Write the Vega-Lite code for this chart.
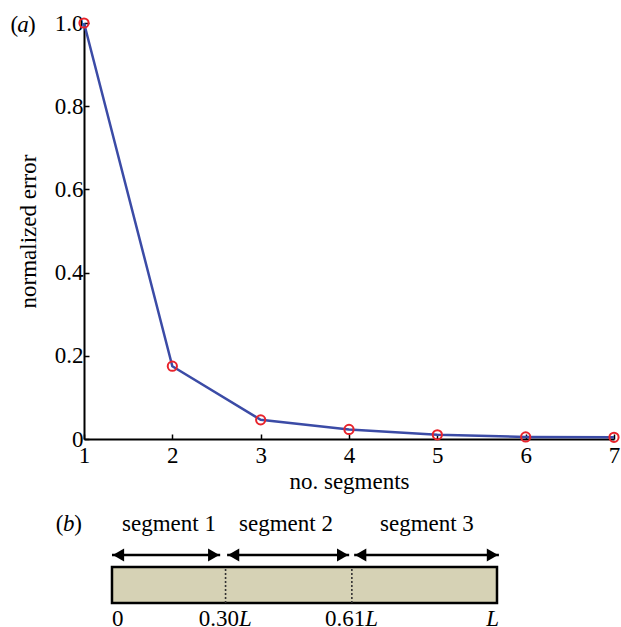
{
  "$schema": "https://vega.github.io/schema/vega-lite/v6.json",
  "autosize": {"type": "pad"},
  "padding": {"left": 10, "top": 12, "right": 0, "bottom": 0},
  "background": "white",
  "bounds": "flush",
  "spacing": 62,
  "config": {
    "font": "Liberation Serif",
    "view": {"stroke": null},
    "axis": {
      "grid": false,
      "domainColor": "black",
      "domainWidth": 2,
      "tickColor": "black",
      "tickWidth": 1.5,
      "tickSize": -5,
      "labelFont": "Liberation Serif",
      "labelFontSize": 23,
      "labelColor": "black",
      "labelPadding": 6,
      "labelFlush": false,
      "labelOverlap": false,
      "titleFont": "Liberation Serif",
      "titleFontSize": 23,
      "titleFontWeight": "normal",
      "titleColor": "black"
    },
    "text": {"font": "Liberation Serif", "fontSize": 23, "color": "black"}
  },
  "datasets": {
    "errors": [
      {"segments": 1, "error": 1.0},
      {"segments": 2, "error": 0.175},
      {"segments": 3, "error": 0.046},
      {"segments": 4, "error": 0.023},
      {"segments": 5, "error": 0.01},
      {"segments": 6, "error": 0.005},
      {"segments": 7, "error": 0.004}
    ],
    "panel_a": [{"segments": 0.31, "error": 1.0}],
    "beam": [{"start": 0, "end": 1, "low": 1.8, "high": 5.4}],
    "cuts": [{"pos": 0.295, "low": 1.8, "high": 5.4, "num": "0.30", "level": 0.25}, {"pos": 0.623, "low": 1.8, "high": 5.4, "num": "0.61", "level": 0.25}],
    "pieces": [
      {"name": "segment 1", "start": 0, "end": 0.281, "mid": 0.148, "arrow": 6.6, "label": 9.7},
      {"name": "segment 2", "start": 0.299, "end": 0.616, "mid": 0.452, "arrow": 6.6, "label": 9.7},
      {"name": "segment 3", "start": 0.629, "end": 1.005, "mid": 0.818, "arrow": 6.6, "label": 9.7}
    ],
    "start_label": [{"pos": 0, "level": 0.25, "text": "0"}],
    "end_label": [{"pos": 1, "level": 0.25, "text": "L"}],
    "panel_b": [{"pos": -0.112, "level": 9.7}]
  },
  "vconcat": [
    {
      "width": 530,
      "height": 416,
      "layer": [
        {
          "data": {"name": "errors"},
          "mark": {"type": "line", "color": "#3b4ba6", "strokeWidth": 2.5},
          "encoding": {
            "x": {
              "field": "segments", "type": "quantitative",
              "scale": {"domain": [1, 7], "nice": false, "zero": false},
              "axis": {"values": [1, 2, 3, 4, 5, 6, 7], "format": "d", "title": "no. segments", "labelPadding": 10, "titlePadding": 3}
            },
            "y": {
              "field": "error", "type": "quantitative",
              "scale": {"domain": [0, 1], "nice": false},
              "axis": {
                "values": [0, 0.2, 0.4, 0.6, 0.8, 1],
                "labelExpr": "datum.value == 0 ? '0' : format(datum.value, '.1f')",
                "title": "normalized error",
                "titlePadding": 14
              }
            }
          }
        },
        {
          "data": {"name": "errors"},
          "mark": {"type": "point", "shape": "circle", "filled": false, "color": "#e8232b", "size": 85, "strokeWidth": 2, "opacity": 1},
          "encoding": {
            "x": {"field": "segments", "type": "quantitative", "scale": {"domain": [1, 7], "nice": false, "zero": false}},
            "y": {"field": "error", "type": "quantitative", "scale": {"domain": [0, 1], "nice": false}}
          }
        },
        {
          "data": {"name": "panel_a"},
          "mark": {"type": "text", "text": "(", "align": "right", "baseline": "middle", "dx": -5, "dy": 2},
          "encoding": {
            "x": {"field": "segments", "type": "quantitative", "scale": {"domain": [1, 7], "nice": false, "zero": false}},
            "y": {"field": "error", "type": "quantitative", "scale": {"domain": [0, 1], "nice": false}}
          }
        },
        {
          "data": {"name": "panel_a"},
          "mark": {"type": "text", "text": "a", "fontStyle": "italic", "align": "center", "baseline": "middle", "dy": 2},
          "encoding": {
            "x": {"field": "segments", "type": "quantitative", "scale": {"domain": [1, 7], "nice": false, "zero": false}},
            "y": {"field": "error", "type": "quantitative", "scale": {"domain": [0, 1], "nice": false}}
          }
        },
        {
          "data": {"name": "panel_a"},
          "mark": {"type": "text", "text": ")", "align": "left", "baseline": "middle", "dx": 5, "dy": 2},
          "encoding": {
            "x": {"field": "segments", "type": "quantitative", "scale": {"domain": [1, 7], "nice": false, "zero": false}},
            "y": {"field": "error", "type": "quantitative", "scale": {"domain": [0, 1], "nice": false}}
          }
        }
      ]
    },
    {
      "width": 530,
      "height": 120,
      "layer": [
        {
          "data": {"name": "beam"},
          "mark": {"type": "rect", "fill": "#d6d2b5", "stroke": "black", "strokeWidth": 2.5},
          "encoding": {
            "x": {"field": "start", "type": "quantitative", "scale": {"domain": [-0.0727, 1.3039], "nice": false, "zero": false}, "axis": null},
            "x2": {"field": "end"},
            "y": {"field": "low", "type": "quantitative", "scale": {"domain": [0, 12], "nice": false}, "axis": null},
            "y2": {"field": "high"}
          }
        },
        {
          "data": {"name": "cuts"},
          "mark": {"type": "rule", "color": "#333333", "strokeWidth": 1.6, "strokeDash": [2, 2]},
          "encoding": {
            "x": {"field": "pos", "type": "quantitative", "scale": {"domain": [-0.0727, 1.3039], "nice": false, "zero": false}, "axis": null},
            "y": {"field": "low", "type": "quantitative", "scale": {"domain": [0, 12], "nice": false}, "axis": null},
            "y2": {"field": "high"}
          }
        },
        {
          "data": {"name": "pieces"},
          "mark": {"type": "rule", "color": "black", "strokeWidth": 2.5},
          "encoding": {
            "x": {"field": "start", "type": "quantitative", "scale": {"domain": [-0.0727, 1.3039], "nice": false, "zero": false}, "axis": null},
            "x2": {"field": "end"},
            "y": {"field": "arrow", "type": "quantitative", "scale": {"domain": [0, 12], "nice": false}, "axis": null}
          }
        },
        {
          "data": {"name": "pieces"},
          "mark": {"type": "point", "shape": "triangle-right", "filled": true, "color": "black", "size": 169, "opacity": 1, "xOffset": -6.5},
          "encoding": {
            "x": {"field": "end", "type": "quantitative", "scale": {"domain": [-0.0727, 1.3039], "nice": false, "zero": false}, "axis": null},
            "y": {"field": "arrow", "type": "quantitative", "scale": {"domain": [0, 12], "nice": false}, "axis": null}
          }
        },
        {
          "data": {"name": "pieces"},
          "mark": {"type": "point", "shape": "triangle-left", "filled": true, "color": "black", "size": 169, "opacity": 1, "xOffset": 6.5},
          "encoding": {
            "x": {"field": "start", "type": "quantitative", "scale": {"domain": [-0.0727, 1.3039], "nice": false, "zero": false}, "axis": null},
            "y": {"field": "arrow", "type": "quantitative", "scale": {"domain": [0, 12], "nice": false}, "axis": null}
          }
        },
        {
          "data": {"name": "pieces"},
          "mark": {"type": "text", "align": "center", "baseline": "middle"},
          "encoding": {
            "x": {"field": "mid", "type": "quantitative", "scale": {"domain": [-0.0727, 1.3039], "nice": false, "zero": false}, "axis": null},
            "y": {"field": "label", "type": "quantitative", "scale": {"domain": [0, 12], "nice": false}, "axis": null},
            "text": {"field": "name"}
          }
        },
        {
          "data": {"name": "cuts"},
          "mark": {"type": "text", "align": "right", "baseline": "middle", "dx": 13.5},
          "encoding": {
            "x": {"field": "pos", "type": "quantitative", "scale": {"domain": [-0.0727, 1.3039], "nice": false, "zero": false}, "axis": null},
            "y": {"field": "level", "type": "quantitative", "scale": {"domain": [0, 12], "nice": false}, "axis": null},
            "text": {"field": "num"}
          }
        },
        {
          "data": {"name": "cuts"},
          "mark": {"type": "text", "text": "L", "fontStyle": "italic", "align": "left", "baseline": "middle", "dx": 13.5},
          "encoding": {
            "x": {"field": "pos", "type": "quantitative", "scale": {"domain": [-0.0727, 1.3039], "nice": false, "zero": false}, "axis": null},
            "y": {"field": "level", "type": "quantitative", "scale": {"domain": [0, 12], "nice": false}, "axis": null}
          }
        },
        {
          "data": {"name": "start_label"},
          "mark": {"type": "text", "align": "left", "baseline": "middle"},
          "encoding": {
            "x": {"field": "pos", "type": "quantitative", "scale": {"domain": [-0.0727, 1.3039], "nice": false, "zero": false}, "axis": null},
            "y": {"field": "level", "type": "quantitative", "scale": {"domain": [0, 12], "nice": false}, "axis": null},
            "text": {"field": "text"}
          }
        },
        {
          "data": {"name": "end_label"},
          "mark": {"type": "text", "align": "right", "baseline": "middle", "fontStyle": "italic", "dx": 2},
          "encoding": {
            "x": {"field": "pos", "type": "quantitative", "scale": {"domain": [-0.0727, 1.3039], "nice": false, "zero": false}, "axis": null},
            "y": {"field": "level", "type": "quantitative", "scale": {"domain": [0, 12], "nice": false}, "axis": null},
            "text": {"field": "text"}
          }
        },
        {
          "data": {"name": "panel_b"},
          "mark": {"type": "text", "text": "(", "align": "right", "baseline": "middle", "dx": -5.5},
          "encoding": {
            "x": {"field": "pos", "type": "quantitative", "scale": {"domain": [-0.0727, 1.3039], "nice": false, "zero": false}, "axis": null},
            "y": {"field": "level", "type": "quantitative", "scale": {"domain": [0, 12], "nice": false}, "axis": null}
          }
        },
        {
          "data": {"name": "panel_b"},
          "mark": {"type": "text", "text": "b", "fontStyle": "italic", "align": "center", "baseline": "middle"},
          "encoding": {
            "x": {"field": "pos", "type": "quantitative", "scale": {"domain": [-0.0727, 1.3039], "nice": false, "zero": false}, "axis": null},
            "y": {"field": "level", "type": "quantitative", "scale": {"domain": [0, 12], "nice": false}, "axis": null}
          }
        },
        {
          "data": {"name": "panel_b"},
          "mark": {"type": "text", "text": ")", "align": "left", "baseline": "middle", "dx": 5.5},
          "encoding": {
            "x": {"field": "pos", "type": "quantitative", "scale": {"domain": [-0.0727, 1.3039], "nice": false, "zero": false}, "axis": null},
            "y": {"field": "level", "type": "quantitative", "scale": {"domain": [0, 12], "nice": false}, "axis": null}
          }
        }
      ]
    }
  ]
}
